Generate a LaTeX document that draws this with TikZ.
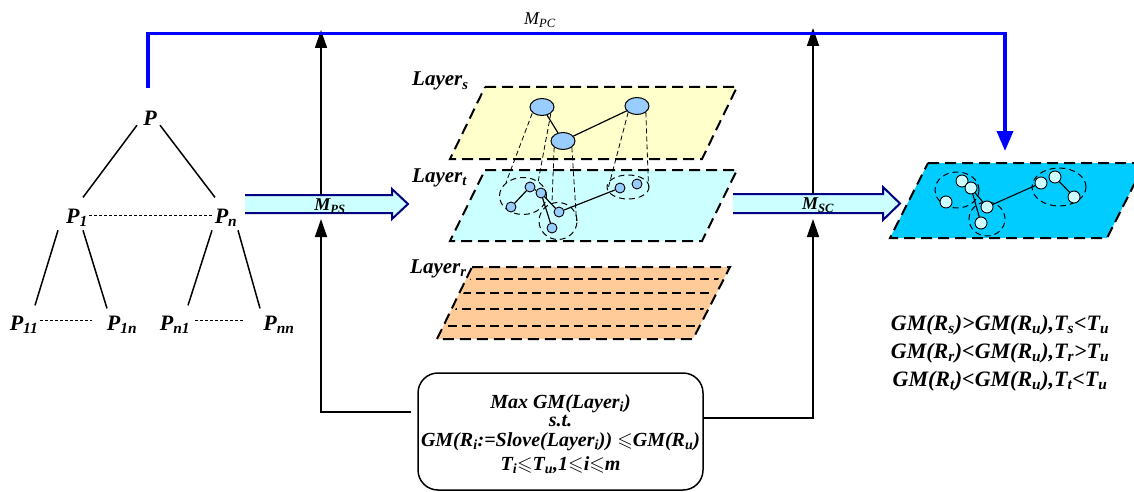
\documentclass[tikz,border=0pt]{standalone}
\usepackage{fontspec}
\setmainfont{Liberation Serif}
\usepackage{amssymb}
\usetikzlibrary{arrows.meta,shapes.geometric,calc}

\definecolor{layerS}{HTML}{FFFFCC}
\definecolor{layerT}{HTML}{CCFFFF}
\definecolor{layerR}{HTML}{FFCC99}
\definecolor{dotBlue}{HTML}{99CCFF}
\definecolor{resCyan}{HTML}{00CCFF}
\definecolor{resDot}{HTML}{CCFFFF}
\definecolor{navy}{HTML}{000080}
\definecolor{pcBlue}{HTML}{0000FF}

\newcommand\sbs[1]{\textsubscript{#1}}

\begin{document}
\begin{tikzpicture}[x=1pt,y=-1pt,
  lbl/.style={font=\fontsize{22}{24}\selectfont\bfseries\itshape, inner sep=0pt, anchor=base},
  laylbl/.style={font=\fontsize{21}{24}\selectfont\bfseries\itshape, inner sep=0pt, anchor=base west},
  mlbl/.style={font=\fontsize{18}{20}\selectfont\bfseries\itshape, inner sep=0pt},
  boxline/.style={font=\fontsize{20}{22}\selectfont\bfseries\itshape, inner sep=0pt, anchor=base},
  conn/.style={line width=1.5pt},
  dotline/.style={line width=1.2pt, dash pattern=on 3pt off 2pt},
  upArrow/.style={line width=1.5pt, -{Triangle[length=18pt,width=12pt]}},
  layerEdge/.style={line width=2pt, dash pattern=on 11pt off 6pt},
  innerEdge/.style={line width=1.2pt, dash pattern=on 9pt off 5pt},
  proj/.style={line width=0.8pt, dash pattern=on 5pt off 3pt},
  grp/.style={draw, ellipse, line width=1pt, dash pattern=on 6pt off 4pt, inner sep=0pt},
  bigdot/.style={draw, ellipse, fill=dotBlue, line width=1pt, minimum width=24pt, minimum height=17pt, inner sep=0pt},
  smalldot/.style={draw, circle, fill=dotBlue, line width=0.9pt, minimum size=10pt, inner sep=0pt},
  resdot/.style={draw, circle, fill=resDot, line width=0.9pt, minimum size=12pt, inner sep=0pt},
  blockArrow/.style={fill=layerT, draw=navy, line width=2pt, line join=miter},
]
\useasboundingbox (0,0) rectangle (1134,492);

% ---------- hierarchy tree ----------
\node[lbl] (P)   at (150,125) {P};
\node[lbl] (P1)  at (77,223)  {P\sbs{1}};
\node[lbl] (Pn)  at (226,223) {P\sbs{n}};
\node[lbl] (P11) at (24,330)  {P\sbs{11}};
\node[lbl] (P1n) at (122,330) {P\sbs{1n}};
\node[lbl] (Pn1) at (175,330) {P\sbs{n1}};
\node[lbl] (Pnn) at (279,330) {P\sbs{nn}};

\draw[conn] ([xshift=-13pt]P.south) -- ([xshift=6pt,yshift=11pt]P1.north);
\draw[conn] ([xshift=10pt]P.south) -- ([xshift=-11pt,yshift=11pt]Pn.north);
\draw[dotline] ([xshift=1pt,yshift=2pt]P1.east) -- ([xshift=-2pt,yshift=2pt]Pn.west);
\draw[conn] ([xshift=-19pt,yshift=-4pt]P1.south) -- ([xshift=11pt,yshift=10pt]P11.north);
\draw[conn] ([xshift=6pt,yshift=-4pt]P1.south) -- ([xshift=-15pt,yshift=7pt]P1n.north);
\draw[conn] ([xshift=-14pt,yshift=-4pt]Pn.south) -- ([xshift=13pt,yshift=10pt]Pn1.north);
\draw[conn] ([xshift=12pt,yshift=-4pt]Pn.south) -- ([xshift=-19pt,yshift=7pt]Pnn.north);
\draw[dotline] ([xshift=2pt,yshift=4pt]P11.east) -- ([xshift=-15pt,yshift=4pt]P1n.west);
\draw[dotline] ([xshift=5pt,yshift=4pt]Pn1.east) -- ([xshift=-19pt,yshift=4pt]Pnn.west);

% ---------- layers ----------
\fill[layerS] (485,87) -- (737,87) -- (702,159) -- (450,159) -- cycle;
\draw[layerEdge] (485,87) -- (737,87) -- (702,159) -- (450,159) -- cycle;
\fill[layerT] (485,170) -- (737,170) -- (702,241) -- (450,241) -- cycle;
\draw[layerEdge] (485,170) -- (737,170) -- (702,241) -- (450,241) -- cycle;
\fill[layerR] (472,267) -- (730,267) -- (693,339) -- (437,339) -- cycle;
\begin{scope}
  \clip (476,268) -- (724,268) -- (689,338) -- (441,338) -- cycle;
  \foreach \yy in {279,293,309,326}
    \draw[innerEdge] (420,\yy) -- (740,\yy);
\end{scope}
\draw[layerEdge] (472,267) -- (730,267) -- (693,339) -- (437,339) -- cycle;

\node[laylbl] (labS) at (412,86)  {Layer\sbs{s}};
\node[laylbl] (labT) at (412,182) {Layer\sbs{t}};
\node[laylbl] (labR) at (410,273) {Layer\sbs{r}};

% layer t: fine graph and its groups
\node[grp, minimum width=47pt, minimum height=37pt] (g1) at (523,196) {};
\node[grp, minimum width=38pt, minimum height=37pt] (g2) at (558,221) {};
\node[grp, minimum width=42pt, minimum height=24pt] (g3) at (628,187) {};
\node[smalldot] (t1) at (530,187) {};
\node[smalldot] (t2) at (541,193) {};
\node[smalldot] (t3) at (511,207) {};
\node[smalldot] (t4) at (559,212) {};
\node[smalldot] (t5) at (552,228) {};
\node[smalldot] (t6) at (620,188) {};
\node[smalldot] (t7) at (637,184) {};
\draw[line width=1.2pt] (t3) -- (t1) -- (t2) -- (t4) -- (t6);
\draw[line width=1.2pt] (t2) -- (t5);

% layer s: coarse graph
\node[bigdot] (sA) at (542,107) {};
\node[bigdot] (sB) at (637,106) {};
\node[bigdot] (sC) at (563,141) {};
\draw[line width=1.2pt] (sA) -- (sC) -- (sB);

% projections of coarse vertices onto their groups
\draw[proj] ([xshift=-1pt]sA.south west) -- (g1.north west);
\draw[proj] (sA.south east) -- ([xshift=-2pt]g1.north east);
\draw[proj] (sC.south west) -- ([xshift=-6pt]g2.north);
\draw[proj] (sC.south east) -- ([xshift=-1pt]g2.east);
\draw[proj] (sB.south west) -- ([xshift=2pt]g3.west);
\draw[proj] (sB.south east) -- ([xshift=-1pt]g3.east);

% ---------- resulting partition ----------
\fill[resCyan] (928,163) -- (1145,163) -- (1107,238) -- (890,238) -- cycle;
\draw[layerEdge] (928,163) -- (1145,163) -- (1107,238) -- (890,238) -- cycle;
\node[grp, minimum width=44pt, minimum height=36pt] (h1) at (957,190) {};
\node[grp, minimum width=36pt, minimum height=34pt] (h2) at (987,219) {};
\node[grp, minimum width=54pt, minimum height=38pt] (h3) at (1059,187) {};
\node[resdot] (r1) at (962,181) {};
\node[resdot] (r2) at (971,188) {};
\node[resdot] (r3) at (946,202) {};
\node[resdot] (r4) at (987,207) {};
\node[resdot] (r5) at (981,223) {};
\node[resdot] (r6) at (1041,183) {};
\node[resdot] (r7) at (1055,177) {};
\node[resdot] (r8) at (1074,197) {};
\draw[line width=1.1pt] (r5) -- (r2) -- (r4) -- (r6);
\draw[line width=1.1pt] (r7) -- (r8);

% ---------- block arrows ----------
\fill[layerT] (245,195) -- (392,195) -- (392,189) -- (408,204) -- (392,219) -- (392,213) -- (245,213) -- cycle;
\draw[blockArrow] (245,195) -- (392,195) -- (392,189) -- (408,204) -- (392,219) -- (392,213) -- (245,213);
\node[mlbl] (mps) at (330,206) {M\sbs{PS}};
\fill[layerT] (733,194) -- (883,194) -- (883,187) -- (900,203.5) -- (883,220) -- (883,213) -- (733,213) -- cycle;
\draw[blockArrow] (733,194) -- (883,194) -- (883,187) -- (900,203.5) -- (883,220) -- (883,213) -- (733,213);
\node[mlbl] (msc) at (818,205) {M\sbs{SC}};

% ---------- optimisation box and feedback arrows ----------
\node[draw, line width=1.5pt, rounded corners=20pt, minimum width=285pt, minimum height=117pt] (box) at (560.5,431.5) {};
\node[boxline] (c1) at (560.5,408) {Max GM(Layer\sbs{i})};
\node[boxline] (c2) at (560.5,426) {s.t.};
\node[boxline] (c3) at (560.5,446) {GM(R\sbs{i}:=Slove(Layer\sbs{i})) $\leqslant$GM(R\sbs{u})};
\node[boxline] (c4) at (560.5,470) {T\sbs{i}$\leqslant$T\sbs{u},1$\leqslant$i$\leqslant$m};

\coordinate (lb)    at (321,412);
\coordinate (psLow) at (321,219);
\coordinate (psTop) at (321,195);
\coordinate (tipL)  at (321,30);
\coordinate (rb)    at (813,418);
\coordinate (scLow) at (813,219);
\coordinate (scTop) at (813,194);
\coordinate (tipR)  at (813,28);

\draw[upArrow, shorten <=6pt] (box.west |- lb) -- (lb) -- (psLow);
\draw[upArrow] (psTop) -- (tipL);
\draw[upArrow] (box.east |- rb) -- (rb) -- (scLow);
\draw[upArrow] (scTop) -- (tipR);

% ---------- direct mapping P -> C ----------
\coordinate (pcTip) at (1005,151);
\draw[pcBlue, line width=3.5pt, -{Triangle[length=20pt,width=16pt]}]
  ([xshift=-2pt,yshift=22pt]P.north) -- ++(0,-55) -| (pcTip);
\node[font=\fontsize{18}{20}\selectfont\itshape, inner sep=0pt] (mpc) at (540,20) {M\sbs{PC}};

% ---------- outcome relations ----------
\node[font=\fontsize{22}{28}\selectfont\bfseries\itshape, align=center, inner sep=0pt] (rel) at (1000,353)
  {GM(R\sbs{s})>GM(R\sbs{u}),T\sbs{s}<T\sbs{u}\\
   GM(R\sbs{r})<GM(R\sbs{u}),T\sbs{r}>T\sbs{u}\\
   GM(R\sbs{t})<GM(R\sbs{u}),T\sbs{t}<T\sbs{u}};
\end{tikzpicture}
\end{document}
